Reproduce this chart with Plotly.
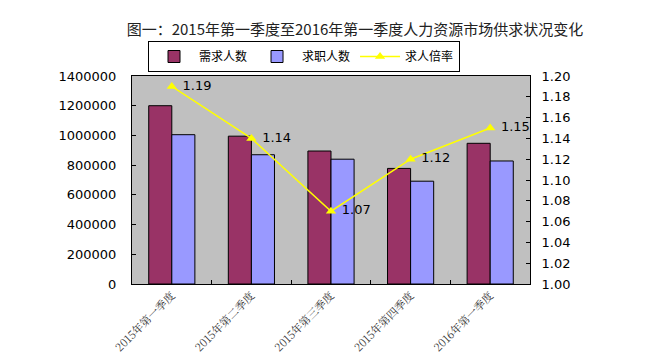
import plotly.graph_objects as go

categories = ["2015年第一季度", "2015年第二季度", "2015年第三季度", "2015年第四季度", "2016年第一季度"]
demand = [1200000, 995000, 895000, 778000, 947000]
seekers = [1005000, 870000, 840000, 692000, 828000]
ratio = [1.19, 1.14, 1.07, 1.12, 1.15]
left_ticks = [0, 200000, 400000, 600000, 800000, 1000000, 1200000, 1400000]
right_ticks = [1.00, 1.02, 1.04, 1.06, 1.08, 1.10, 1.12, 1.14, 1.16, 1.18, 1.20]

ratio_labels = ["\u00a0" + f"{v:.2f}" for v in ratio]

num_font = "DejaVu Sans, Arial, sans-serif"
cjk_font = "Noto Sans CJK SC, sans-serif"

fig = go.Figure()
fig.add_trace(go.Bar(
    x=categories, y=demand, name="需求人数",
    marker=dict(color="#993366", line=dict(color="black", width=1)),
))
fig.add_trace(go.Bar(
    x=categories, y=seekers, name="求职人数",
    marker=dict(color="#9999FF", line=dict(color="black", width=1)),
))
fig.add_trace(go.Scatter(
    x=categories, y=ratio, name="求人倍率", yaxis="y2",
    mode="lines+markers+text", cliponaxis=False,
    line=dict(color="#FFFF00", width=1.5),
    marker=dict(symbol="triangle-up", size=9, color="#FFFF00"),
    text=ratio_labels, textposition="middle right",
    textfont=dict(family=num_font, size=13, color="black"),
))

fig.update_layout(
    width=666, height=361,
    margin=dict(l=124, r=144, t=68, b=85),
    paper_bgcolor="white", plot_bgcolor="#C0C0C0",
    barmode="group", bargap=0.42, bargroupgap=0,
    title=dict(
        text="图一：2015年第一季度至2016年第一季度人力资源市场供求状况变化",
        x=347 / 666, xanchor="center", xref="container",
        y=1 - 22 / 361, yanchor="middle", yref="container",
        font=dict(family=cjk_font, size=15, color="#222222", weight="normal"),
    ),
    legend=dict(
        orientation="h", x=(140 - 124) / 398, xanchor="left",
        y=(276 - 33) / 208, yanchor="top",
        bgcolor="white", bordercolor="black", borderwidth=1,
        font=dict(family=cjk_font, size=12, color="black"),
        itemwidth=40, traceorder="normal",
    ),
    xaxis=dict(
        type="category", tickangle=-45, tickson="boundaries",
        ticks="inside", ticklen=4, tickcolor="black",
        showline=True, linecolor="black", linewidth=1, mirror=True,
        showgrid=False,
        tickfont=dict(family="Noto Serif CJK SC, " + cjk_font, size=11, color="#333333"),
    ),
    yaxis=dict(
        range=[0, 1400000], tickvals=left_ticks, tickformat="d",
        ticks="inside", ticklen=4, tickcolor="black",
        showline=True, linecolor="black", linewidth=1,
        showgrid=False, zeroline=False, ticklabelstandoff=12,
        tickfont=dict(family=num_font, size=13, color="black"),
    ),
    yaxis2=dict(
        range=[1.00, 1.20], tickvals=right_ticks, tickformat=".2f",
        overlaying="y", side="right",
        ticks="inside", ticklen=4, tickcolor="black",
        showline=True, linecolor="black", linewidth=1,
        showgrid=False, zeroline=False, ticklabelstandoff=8,
        tickfont=dict(family=num_font, size=13, color="black"),
    ),
)

fig.write_html("out.html")
